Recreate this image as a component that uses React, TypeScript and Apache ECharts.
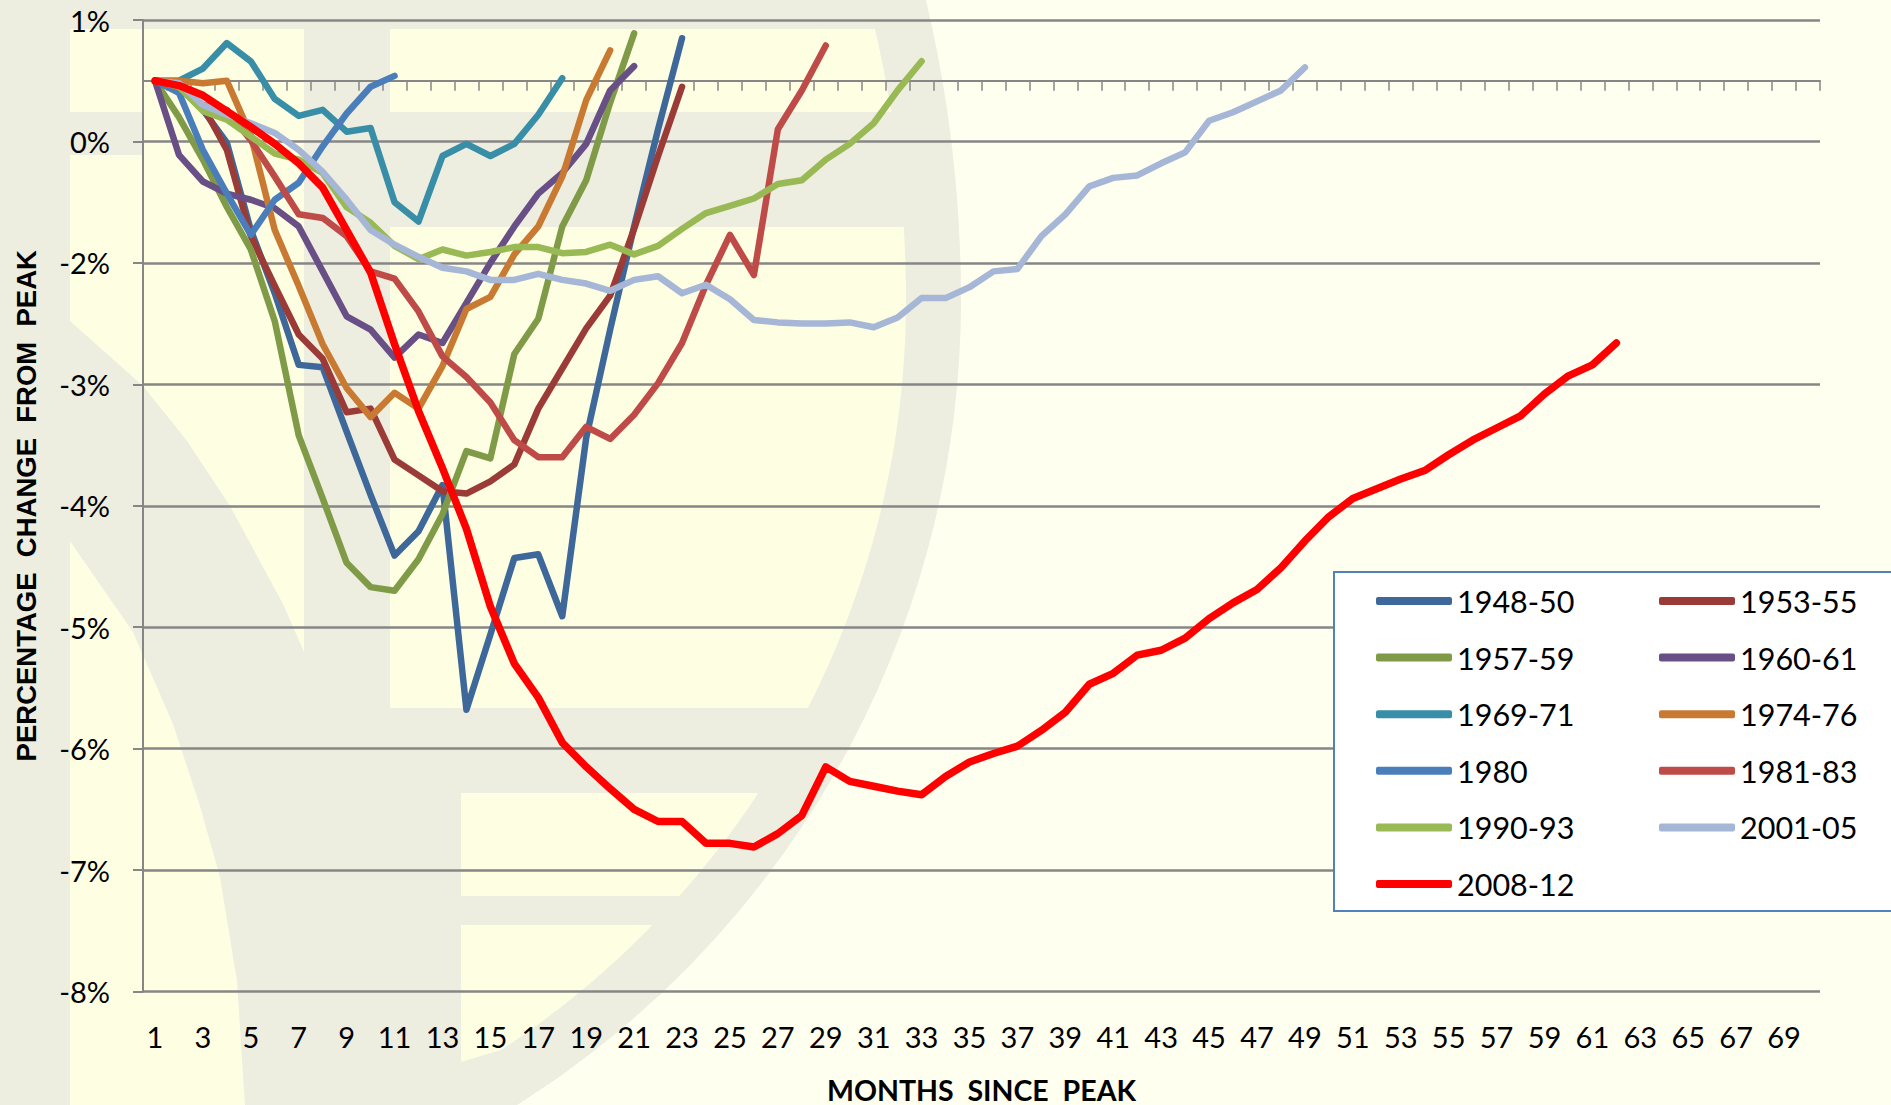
import React, { useEffect, useRef } from "react";
import * as echarts from "echarts";

const months = Array.from({ length: 70 }, (_, i) => String(i + 1));
const yTicks = [0.5, -0.5, -1.5, -2.5, -3.5, -4.5, -5.5, -6.5, -7.5];
const yTickLabels = ["1%", "0%", "-2%", "-3%", "-4%", "-5%", "-6%", "-7%", "-8%"];

const s1948 = [0, -0.05, -0.24, -0.51, -1.23, -1.75, -2.34, -2.36, -2.89, -3.41, -3.91, -3.71, -3.33, -5.18, -4.56, -3.93, -3.9, -4.41, -2.94, -2.05, -1.2, -0.4, 0.35];
const s1953 = [0, -0.05, -0.21, -0.57, -1.28, -1.69, -2.09, -2.29, -2.73, -2.7, -3.12, -3.25, -3.38, -3.4, -3.3, -3.16, -2.7, -2.37, -2.04, -1.77, -1.22, -0.62, -0.05];
const s1957 = [0, -0.3, -0.65, -1.04, -1.39, -1.98, -2.92, -3.44, -3.97, -4.17, -4.2, -3.94, -3.57, -3.05, -3.11, -2.25, -1.96, -1.2, -0.82, -0.18, 0.39];
const s1960 = [0, -0.61, -0.83, -0.93, -0.98, -1.05, -1.2, -1.57, -1.94, -2.05, -2.28, -2.09, -2.16, -1.83, -1.5, -1.2, -0.93, -0.76, -0.52, -0.08, 0.12];
const s1969 = [0, 0, 0.1, 0.31, 0.16, -0.15, -0.29, -0.24, -0.42, -0.39, -1.0, -1.16, -0.62, -0.52, -0.62, -0.52, -0.28, 0.02];
const s1974 = [0, 0, -0.02, 0, -0.45, -1.23, -1.69, -2.17, -2.53, -2.77, -2.57, -2.7, -2.35, -1.88, -1.78, -1.43, -1.2, -0.79, -0.16, 0.25];
const s1980 = [0, -0.1, -0.57, -0.93, -1.27, -0.98, -0.84, -0.54, -0.27, -0.05, 0.04];
const s1981 = [0, -0.05, -0.2, -0.24, -0.49, -0.79, -1.1, -1.13, -1.28, -1.57, -1.63, -1.9, -2.27, -2.44, -2.65, -2.96, -3.1, -3.1, -2.85, -2.95, -2.75, -2.49, -2.16, -1.68, -1.27, -1.6, -0.4, -0.08, 0.29];
const s1990 = [0, -0.05, -0.25, -0.32, -0.46, -0.6, -0.65, -0.76, -1.04, -1.17, -1.36, -1.47, -1.39, -1.44, -1.41, -1.37, -1.37, -1.42, -1.41, -1.35, -1.43, -1.36, -1.22, -1.09, -1.03, -0.97, -0.85, -0.82, -0.65, -0.52, -0.35, -0.08, 0.16];
const s2001 = [0, -0.02, -0.2, -0.28, -0.35, -0.43, -0.57, -0.75, -0.98, -1.23, -1.35, -1.45, -1.54, -1.57, -1.64, -1.64, -1.59, -1.64, -1.67, -1.73, -1.64, -1.61, -1.75, -1.68, -1.8, -1.97, -1.99, -2.0, -2.0, -1.99, -2.03, -1.95, -1.79, -1.79, -1.7, -1.57, -1.55, -1.28, -1.1, -0.87, -0.8, -0.78, -0.68, -0.59, -0.33, -0.26, -0.17, -0.08, 0.11];
const s2008 = [0, -0.04, -0.12, -0.25, -0.38, -0.52, -0.68, -0.88, -1.23, -1.58, -2.17, -2.72, -3.19, -3.69, -4.33, -4.8, -5.08, -5.45, -5.65, -5.83, -6.0, -6.1, -6.1, -6.28, -6.28, -6.31, -6.2, -6.05, -5.65, -5.77, -5.81, -5.85, -5.88, -5.73, -5.61, -5.54, -5.48, -5.35, -5.2, -4.97, -4.88, -4.73, -4.69, -4.59, -4.43, -4.3, -4.19, -4.01, -3.79, -3.59, -3.44, -3.36, -3.28, -3.21, -3.08, -2.96, -2.86, -2.76, -2.58, -2.43, -2.34, -2.16];

const seriesNames = ["1948-50", "1953-55", "1957-59", "1960-61", "1969-71", "1974-76", "1980", "1981-83", "1990-93", "2001-05", "2008-12"];
const seriesValues = [s1948, s1953, s1957, s1960, s1969, s1974, s1980, s1981, s1990, s2001, s2008];
const seriesColors = ["#3D6899", "#9B3B38", "#7F9B48", "#684F86", "#378EA6", "#C97A32", "#4A7EBB", "#BE4B48", "#98B954", "#A5B6D6", "#FF0000"];
const legendLeft = ["1948-50", "1957-59", "1969-71", "1980", "1990-93", "2008-12"];
const legendRight = ["1953-55", "1960-61", "1974-76", "1981-83", "2001-05"];

const GRAY = "#EDEDE0";
const YELLOW = "#FEFEE2";
const PALE = "#FFFFF0";
const poly = (points: number[][], fill: string) => ({ type: "polygon", silent: true, z: -10, shape: { points }, style: { fill } });

// The watermark's ring: centred near (9, 300), a little flatter above the centre.
const arc = (r: number, topRadius: number, y0: number, y1: number) => {
  const pts: number[][] = [];
  const n = 40;
  for (let i = 0; i <= n; i++) {
    const y = y0 + ((y1 - y0) * i) / n;
    const b = y < 300 ? topRadius : r;
    pts.push([9 + r * Math.sqrt(1 - ((y - 300) / b) * ((y - 300) / b)), y]);
  }
  return pts;
};
const outer = (y0: number, y1: number) => arc(952, 1116, y0, y1);
const inner = (y0: number, y1: number) => arc(897, 1039, y0, y1);

const watermark = [
  { type: "rect", silent: true, z: -10, shape: { x: 0, y: 0, width: 1891, height: 1105 }, style: { fill: PALE } },
  poly([[0, 0], ...outer(0, 1105), [0, 1105]], GRAY),
  poly([[70, 29], [304, 29], [304, 652], [283, 604], [230, 506], [187, 441], [143, 386], [70, 321], [70, 155], [143, 155], [143, 112], [70, 112]], YELLOW),
  poly([[70, 541], [133, 632], [173, 724], [200, 806], [220, 877], [237, 981], [245, 1105], [70, 1105]], YELLOW),
  poly([[390, 29], ...inner(29, 112), [390, 112]], YELLOW),
  poly([[390, 227], ...inner(227, 708), [390, 708]], YELLOW),
  poly([[461, 793], ...inner(793, 896), [461, 896]], YELLOW),
  poly([[461, 925], ...inner(925, 1050), [461, 1062]], YELLOW),
];

const FONT = "Lato";
const axisGray = "#868686";

export default function App() {
  const ref = useRef<HTMLDivElement>(null);
  useEffect(() => {
    const chart = echarts.init(ref.current!, undefined, { renderer: "svg" });
    const legendBase = {
      orient: "vertical",
      itemWidth: 76,
      itemHeight: 8,
      itemGap: 20.6,
      icon: "roundRect",
      itemStyle: { borderWidth: 0 },
      textStyle: { fontFamily: FONT, fontSize: 30.5, color: "#000", lineHeight: 36 },
      z: 6,
    };
    chart.setOption({
      animation: false,
      backgroundColor: "transparent",
      graphic: {
        elements: [
          ...watermark,
          {
            type: "rect",
            silent: true,
            z: 4,
            shape: { x: 1334, y: 572, width: 570, height: 339 },
            style: { fill: "#FFFFFF", stroke: "#4F81BD", lineWidth: 2 },
          },
        ],
      },
      legend: [
        { ...legendBase, data: legendLeft, left: 1371, top: 578 },
        { ...legendBase, data: legendRight, left: 1654, top: 578 },
      ],
      grid: { left: 143, top: 20, width: 1677, height: 971.5, containLabel: false, outerBoundsMode: "none" },
      xAxis: [
        {
          type: "category",
          data: months,
          position: "bottom",
          boundaryGap: true,
          axisLine: { show: true, onZero: true, lineStyle: { color: axisGray, width: 2 } },
          axisTick: { show: true, interval: 0, length: 10, lineStyle: { color: axisGray, width: 1.5 } },
          axisLabel: { show: false },
          splitLine: { show: false },
        },
        {
          type: "category",
          data: months,
          position: "bottom",
          boundaryGap: true,
          name: "MONTHS  SINCE  PEAK",
          nameLocation: "middle",
          nameGap: 84,
          nameTextStyle: { fontFamily: FONT, fontWeight: "bold", fontSize: 28.5, color: "#000", lineHeight: 28 },
          axisLine: { show: false, onZero: false },
          axisTick: { show: false },
          axisLabel: { interval: 1, margin: 30, fontFamily: FONT, fontSize: 29, color: "#000", hideOverlap: false },
          splitLine: { show: false },
        },
      ],
      yAxis: {
        type: "value",
        min: -7.5,
        max: 0.5,
        name: "PERCENTAGE  CHANGE  FROM  PEAK",
        nameLocation: "middle",
        nameRotate: 90,
        nameGap: 103,
        nameTextStyle: { fontFamily: "Liberation Sans", fontWeight: "bold", fontSize: 27.5, color: "#000" },
        axisLine: { show: true, lineStyle: { color: axisGray, width: 2 } },
        axisTick: { show: true, customValues: yTicks, length: 10, lineStyle: { color: axisGray, width: 2 } },
        axisLabel: {
          customValues: yTicks,
          margin: 33,
          fontFamily: FONT,
          fontSize: 29,
          color: "#000",
          formatter: (v: number) => yTickLabels[yTicks.indexOf(v)] ?? "",
        },
        splitLine: { show: true, lineStyle: { color: axisGray, width: 2.5, type: "solid" } },
      },
      series: seriesNames.map((name, i) => ({
        name,
        type: "line",
        xAxisIndex: 0,
        data: seriesValues[i],
        showSymbol: false,
        symbol: "none",
        clip: false,
        z: 2 + i * 0.01,
        itemStyle: { color: seriesColors[i] },
        lineStyle: { color: seriesColors[i], width: name === "2008-12" ? 7.5 : 6.5, cap: "round", join: "round" },
      })),
    });
    return () => chart.dispose();
  }, []);
  return <div ref={ref} style={{ position: "absolute", left: 0, top: 0, width: 1891, height: 1105, overflow: "hidden" }} />;
}
